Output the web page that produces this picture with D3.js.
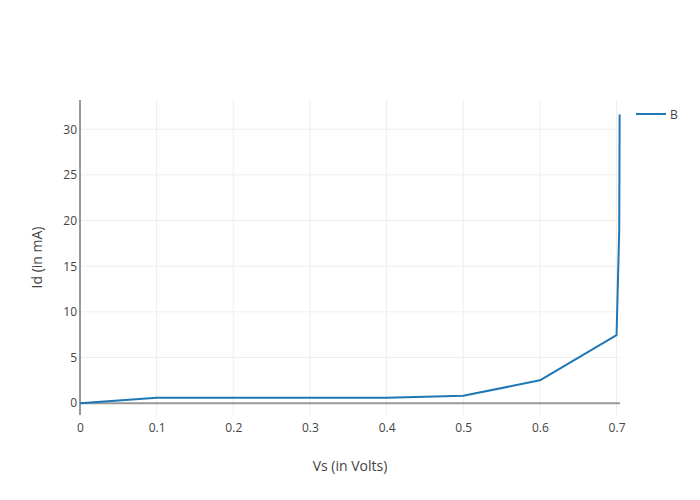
<!DOCTYPE html>
<html><head><meta charset="utf-8">
<script src="https://cdn.jsdelivr.net/npm/d3@7"></script>
<style>body{margin:0;background:#fff;font-family:"Open Sans",sans-serif;}</style>
</head><body><svg id="c" width="700" height="500"></svg>
<script>
const vs = [0, 0.1, 0.2, 0.3, 0.4, 0.5, 0.6, 0.7, 0.7035, 0.704];
const id = [0, 0.58, 0.58, 0.58, 0.58, 0.8, 2.5, 7.45, 19, 31.6];
const xTicks = [0, 0.1, 0.2, 0.3, 0.4, 0.5, 0.6, 0.7];
const yTicks = [0, 5, 10, 15, 20, 25, 30];
const seriesName = "B";

const svg = d3.select("#c");
const L = 80, R = 620, T = 100, B = 415;
const x = d3.scaleLinear().domain([0, 0.7045]).range([L, R]);
const y = d3.scaleLinear().domain([-1.3, 33.2]).range([B, T]);

// grid
svg.append("g").selectAll("line").data(xTicks.slice(1)).join("line")
  .attr("x1", d => x(d)).attr("x2", d => x(d)).attr("y1", T).attr("y2", B)
  .attr("stroke", "#eee").attr("stroke-width", 1);
svg.append("g").selectAll("line").data(yTicks.slice(1)).join("line")
  .attr("x1", L).attr("x2", R).attr("y1", d => y(d)).attr("y2", d => y(d))
  .attr("stroke", "#eee").attr("stroke-width", 1);

// zero line
svg.append("line").attr("x1", L).attr("x2", R).attr("y1", y(0)).attr("y2", y(0))
  .attr("stroke", "#999").attr("stroke-width", 2);

// axes (labels only)
const xAxis = d3.axisBottom(x).tickValues(xTicks).tickSize(0).tickPadding(0).tickFormat(d3.format("~g"));
const gx = svg.append("g").attr("transform", `translate(0,${B})`).call(xAxis);
gx.select(".domain").remove();
gx.selectAll("text").attr("font-family", "Open Sans").attr("font-size", 12).attr("fill", "#444").attr("dy", "1.45em");

const yAxis = d3.axisLeft(y).tickValues(yTicks).tickSize(0).tickPadding(3);
const gy = svg.append("g").attr("transform", `translate(${L},0)`).call(yAxis);
gy.select(".domain").remove();
gy.selectAll("text").attr("font-family", "Open Sans").attr("font-size", 12).attr("fill", "#444");

// y axis line
svg.append("line").attr("x1", L).attr("x2", L).attr("y1", T).attr("y2", B)
  .attr("stroke", "#999").attr("stroke-width", 2);

// data line
const line = d3.line().x((d, i) => x(vs[i])).y((d, i) => y(id[i]));
svg.append("path").datum(id).attr("d", line).attr("fill", "none")
  .attr("stroke", "#1f77b4").attr("stroke-width", 2).attr("stroke-linejoin", "round");

// titles
svg.append("text").attr("x", (L + R) / 2).attr("y", 471).attr("text-anchor", "middle")
  .attr("font-family", "Open Sans").attr("font-size", 14).attr("fill", "#444").text("Vs (in Volts)");
svg.append("text").attr("transform", `translate(42,${(T + B) / 2}) rotate(-90)`).attr("text-anchor", "middle")
  .attr("font-family", "Open Sans").attr("font-size", 14).attr("fill", "#444").text("Id (in mA)");

// legend
svg.append("line").attr("x1", 636).attr("x2", 666).attr("y1", 114).attr("y2", 114)
  .attr("stroke", "#1f77b4").attr("stroke-width", 2);
svg.append("text").attr("x", 670).attr("y", 118.5).attr("font-family", "Open Sans")
  .attr("font-size", 12).attr("fill", "#444").text(seriesName);
</script></body></html>
